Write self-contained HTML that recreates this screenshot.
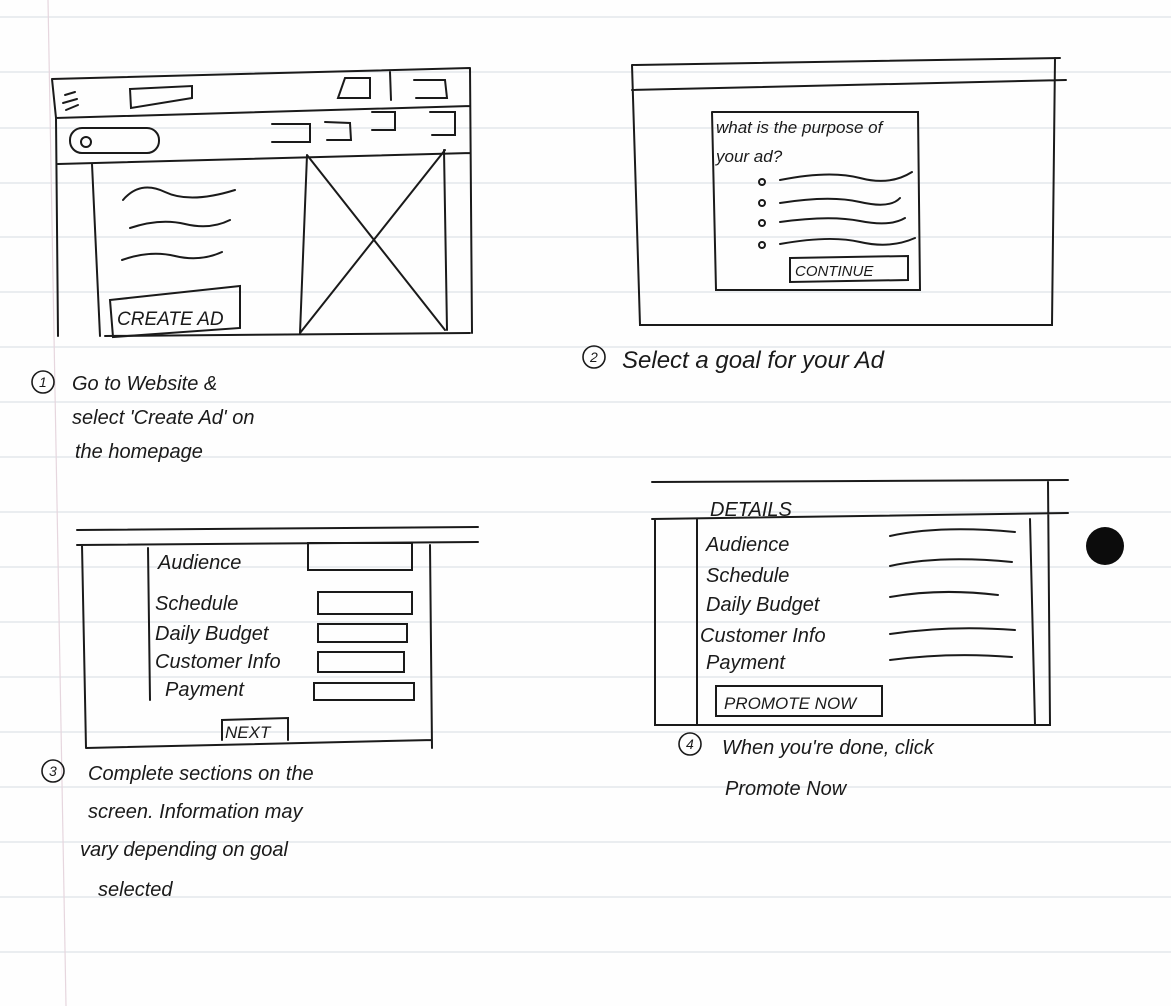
<!DOCTYPE html>
<html><head><meta charset="utf-8"><style>
html,body{margin:0;padding:0;background:#fff;}
svg{display:block}
text{font-family:"Liberation Sans",sans-serif;fill:#1a1a1a;font-style:italic}
</style></head><body>
<svg width="1171" height="1006" viewBox="0 0 1171 1006" xmlns="http://www.w3.org/2000/svg">
<rect width="1171" height="1006" fill="#fefefe"/>
<g stroke="#dfe3e8" stroke-width="1.2">
<line x1="0" y1="17" x2="1171" y2="17"/><line x1="0" y1="72" x2="1171" y2="72"/>
<line x1="0" y1="128" x2="1171" y2="128"/><line x1="0" y1="183" x2="1171" y2="183"/>
<line x1="0" y1="237" x2="1171" y2="237"/><line x1="0" y1="292" x2="1171" y2="292"/>
<line x1="0" y1="347" x2="1171" y2="347"/><line x1="0" y1="402" x2="1171" y2="402"/>
<line x1="0" y1="457" x2="1171" y2="457"/><line x1="0" y1="512" x2="1171" y2="512"/>
<line x1="0" y1="567" x2="1171" y2="567"/><line x1="0" y1="622" x2="1171" y2="622"/>
<line x1="0" y1="677" x2="1171" y2="677"/><line x1="0" y1="732" x2="1171" y2="732"/>
<line x1="0" y1="787" x2="1171" y2="787"/><line x1="0" y1="842" x2="1171" y2="842"/>
<line x1="0" y1="897" x2="1171" y2="897"/><line x1="0" y1="952" x2="1171" y2="952"/>
</g>
<line x1="48" y1="0" x2="66" y2="1006" stroke="#e6d6de" stroke-width="1.2"/>
<g stroke="#1a1a1a" stroke-width="2" fill="none" stroke-linecap="round">
<!-- sketch 1 -->
<path d="M52 79 L470 68 M52 79 L56 118 L470 106 M56 118 L58 336 M58 164 L470 153 M92 164 L100 336 M470 68 L472 333 M105 336 L470 333"/>
<path d="M65 95 L75 92 M63 103 L77 99 M66 110 L78 105"/>
<path d="M130 89 L192 86 L192 98 L131 108 Z"/>
<path d="M338 98 L345 78 L370 78 L370 98 Z M390 72 L391 100 M414 80 L445 80 L447 98 L416 98"/>
<rect x="70" y="128" width="89" height="25" rx="12"/><circle cx="86" cy="142" r="5"/>
<path d="M272 124 L310 124 L310 142 L272 142 M325 122 L350 123 L351 140 L327 140 M372 112 L395 112 L395 130 L372 130 M430 112 L455 112 L455 135 L432 135"/>
<path d="M307 155 L300 333 M307 155 L445 330 M300 333 L445 150 M444 150 L447 330"/>
<path d="M123 200 Q140 180 165 192 T235 190 M130 228 Q160 218 185 224 T230 220 M122 260 Q150 250 175 256 T222 252"/>
<path d="M110 300 L240 286 L240 328 L113 337 Z"/>
<!-- sketch 2 -->
<path d="M632 65 L1060 58 M632 90 L1066 80 M632 65 L640 325 L1052 325 L1055 58 M712 112 L716 290 L920 290 L918 112 L712 112"/>
<path d="M790 258 L908 256 L908 280 L790 282 Z"/>
<path d="M780 180 Q830 170 860 178 T912 172 M780 203 Q830 195 860 202 T900 198 M780 222 Q830 215 860 221 T905 218 M780 244 Q830 235 860 242 T915 238"/>
<circle cx="762" cy="182" r="3"/><circle cx="762" cy="203" r="3"/><circle cx="762" cy="223" r="3"/><circle cx="762" cy="245" r="3"/>
<!-- sketch 3 -->
<path d="M77 530 L478 527 M77 545 L478 542 M82 545 L86 748 M148 548 L150 700 M430 545 L432 748 M86 748 L432 740"/>
<rect x="308" y="543" width="104" height="27"/><rect x="318" y="592" width="94" height="22"/>
<rect x="318" y="624" width="89" height="18"/><rect x="318" y="652" width="86" height="20"/><rect x="314" y="683" width="100" height="17"/>
<path d="M222 740 L222 720 L288 718 L288 740"/>
<!-- sketch 4 -->
<path d="M652 482 L1068 480 M652 519 L1068 513 M655 519 L655 725 L1050 725 L1048 482 M697 519 L697 725 M1030 519 L1035 725"/>
<path d="M890 536 Q940 525 1015 532 M890 566 Q940 555 1012 562 M890 597 Q940 588 998 595 M890 634 Q950 625 1015 630 M890 660 Q950 652 1012 657"/>
<rect x="716" y="686" width="166" height="30"/>
</g>
<circle cx="1105" cy="546" r="19" fill="#0c0c0c"/>
<circle cx="43" cy="382" r="11" fill="none" stroke="#1a1a1a" stroke-width="1.6"/>
<circle cx="594" cy="357" r="11" fill="none" stroke="#1a1a1a" stroke-width="1.6"/>
<circle cx="53" cy="771" r="11" fill="none" stroke="#1a1a1a" stroke-width="1.6"/>
<circle cx="690" cy="744" r="11" fill="none" stroke="#1a1a1a" stroke-width="1.6"/>
<g font-size="14"><text x="39" y="387">1</text><text x="590" y="362">2</text><text x="49" y="776">3</text><text x="686" y="749">4</text></g>
<g font-size="20">
<text x="117" y="325" font-size="19">CREATE AD</text>
<text x="72" y="390">Go to Website &amp;</text>
<text x="72" y="424">select 'Create Ad' on</text>
<text x="75" y="458">the homepage</text>
<text x="622" y="368" font-size="24">Select a goal for your Ad</text>
<text x="158" y="569">Audience</text><text x="155" y="610">Schedule</text>
<text x="155" y="640">Daily Budget</text><text x="155" y="668">Customer Info</text><text x="165" y="696">Payment</text>
<text x="225" y="738" font-size="17">NEXT</text>
<text x="88" y="780">Complete sections on the</text>
<text x="88" y="818">screen. Information may</text>
<text x="80" y="856">vary depending on goal</text>
<text x="98" y="896">selected</text>
<text x="710" y="516">DETAILS</text>
<text x="706" y="551">Audience</text><text x="706" y="582">Schedule</text>
<text x="706" y="611">Daily Budget</text><text x="700" y="642">Customer Info</text><text x="706" y="669">Payment</text>
<text x="724" y="709" font-size="17">PROMOTE NOW</text>
<text x="722" y="754">When you're done, click</text>
<text x="725" y="795">Promote Now</text>
</g>
<g font-size="17"><text x="716" y="133">what is the purpose of</text><text x="716" y="162">your ad?</text>
<text x="795" y="276" font-size="15">CONTINUE</text></g>
</svg>
</body></html>
